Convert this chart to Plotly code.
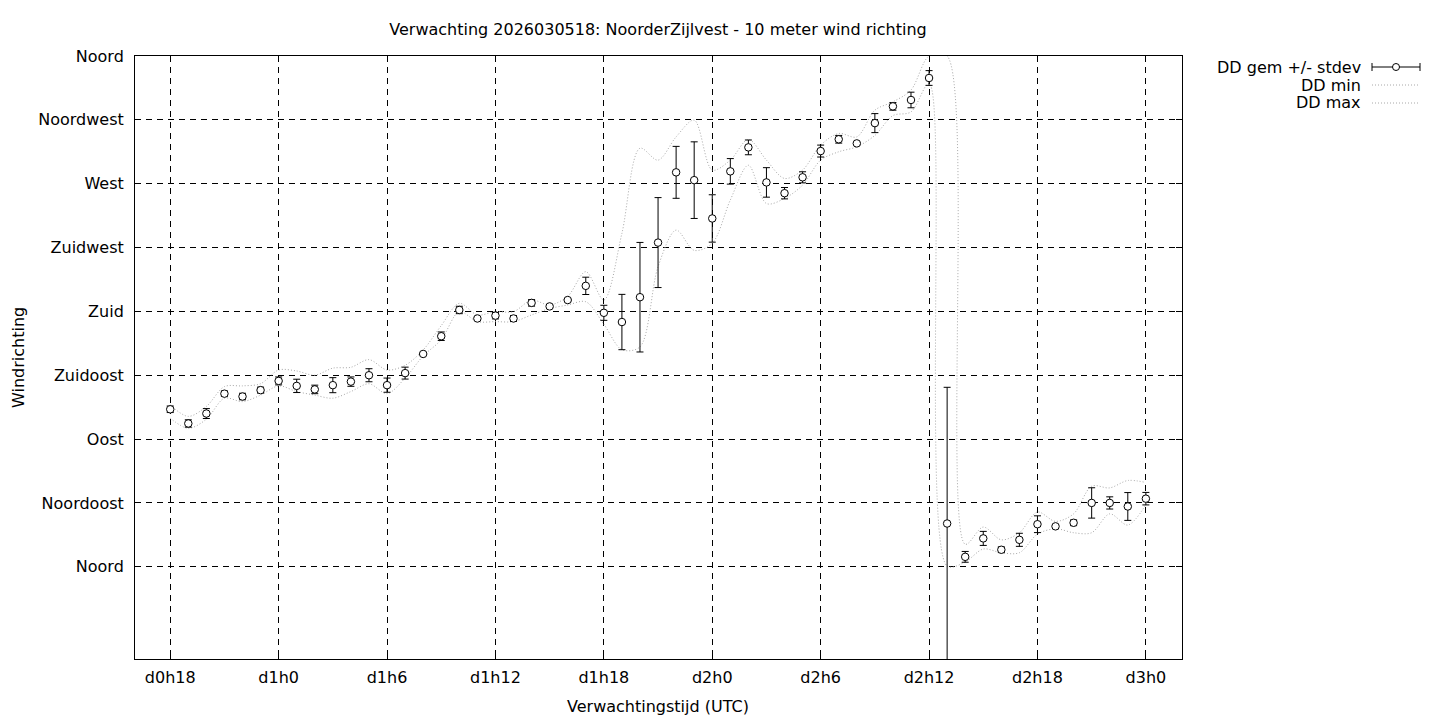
import plotly.graph_objects as go

# ---- data ----
hours = [18, 19, 20, 21, 22, 23, 24, 25, 26, 27, 28, 29, 30, 31, 32, 33, 34, 35, 36,
         37, 38, 39, 40, 41, 42, 43, 44, 45, 46, 47, 48, 49, 50, 51, 52, 53, 54, 55,
         56, 57, 58, 59, 60, 61, 62, 63, 64, 65, 66, 67, 68, 69, 70, 71, 72]

dd_mean = [111, 101, 108, 122, 120, 124.5, 131, 127.5, 125, 128, 130.5, 135, 128, 136.5,
           150, 162.5, 181, 175, 177, 175, 186, 183.5, 188, 198, 179, 172.5, 190, 228.5,
           278, 272.5, 245.5, 278.7, 295.6, 270.9, 263.3, 274.5, 293, 301.3, 298.4, 312.7,
           324.5, 329, 344.5, 30.5, 7, 20, 12, 19, 30, 28.5, 31, 45, 45, 42.5, 48]

dd_std = [2.3, 2.6, 3.5, 1.9, 2.3, 2.1, 2.8, 4.7, 3, 5.3, 3.3, 4.6, 5, 4.2,
          0.8, 3, 2.6, 0.8, 2.3, 2.1, 2.3, 0.8, 0.8, 6.1, 5.3, 19.5, 38.6, 31.7,
          18.3, 27, 16.7, 9, 5.2, 10.4, 4, 3.9, 4.2, 2.7, 0.8, 6.7,
          2.7, 5.5, 5.2, 96, 3.8, 4.95, 2, 4.6, 5.9, 0.8, 2, 10.7, 4.3, 9.8, 4.4]

dd_min = [104.7, 97.6, 104, 118.8, 116.4, 121, 127.5, 123.5, 121, 118.8, 123.5, 129, 122, 133,
          148.6, 160, 179.8, 172.8, 172.8, 172.8, 177.5, 182, 184.5, 186.8, 171, 153, 155, 211.5,
          237.3, 223, 228, 258.5, 283, 256, 259.6, 269, 286.6, 292.5, 296, 304,
          318, 320.6, 340.6, 0.5, 3.4, 12.5, 9.9, 9.9, 23, 26.8, 24, 24, 37.3, 29.4, 43.8]

dd_max = [114, 106, 113, 127, 127.5, 129, 138.7, 138, 135, 140, 140.6, 146, 138.7, 142,
          152.8, 170, 185.7, 177.5, 179.8, 179.8, 188, 184.5, 190.6, 208, 188, 235, 295, 286.6,
          303, 314.8, 279.6, 286.6, 301.2, 286.6, 273.7, 279.6, 297.2, 305.4, 303, 321.8,
          327.7, 336, 360, 360, 15.9, 28, 19, 24, 38.6, 32, 37.3, 56.8, 55.6, 60.8, 59.4]

x_tickvals = [18, 24, 30, 36, 42, 48, 54, 60, 66, 72]
x_ticktext = ["d0h18", "d1h0", "d1h6", "d1h12", "d1h18", "d2h0", "d2h6", "d2h12", "d2h18", "d3h0"]
y_tickvals = [0, 45, 90, 135, 180, 225, 270, 315, 360]
y_ticktext = ["Noord", "Noordoost", "Oost", "Zuidoost", "Zuid", "Zuidwest", "West", "Noordwest", "Noord"]

title_text = "Verwachting 2026030518: NoorderZijlvest - 10 meter wind richting"
legend_labels = ["DD gem +/- stdev", "DD min", "DD max"]

FONT = "DejaVu Sans"
FS = 16
GRAY = "#a8a8a8"

fig = go.Figure()

fig.add_trace(go.Scatter(
    x=hours, y=dd_min, mode="lines", name=legend_labels[1],
    line=dict(color=GRAY, width=1, dash="1px,2px", shape="spline", smoothing=0.9),
    showlegend=False))
fig.add_trace(go.Scatter(
    x=hours, y=dd_max, mode="lines", name=legend_labels[2],
    line=dict(color=GRAY, width=1, dash="1px,2px", shape="spline", smoothing=0.9),
    showlegend=False))
fig.add_trace(go.Scatter(
    x=hours, y=dd_mean, mode="markers", name=legend_labels[0],
    marker=dict(symbol="circle", size=7.5, color="white", line=dict(color="black", width=1)),
    error_y=dict(type="data", array=dd_std, symmetric=True, color="black", thickness=1, width=3.5),
    showlegend=False))

# plot area in pixels
L, R, T, B = 135, 1182, 56, 659
W, H = 1440, 720


def px(xp):
    return (xp - L) / (R - L)


def py(yp):
    return (B - yp) / (B - T)


fig.update_layout(
    width=W, height=H,
    margin=dict(l=L, r=W - R, t=T, b=H - B, autoexpand=False),
    paper_bgcolor="white", plot_bgcolor="white",
    font=dict(family=FONT, size=FS, color="black"),
    showlegend=False,
    title=dict(text=title_text, x=658 / W, y=1 - 29 / H, xanchor="center",
               yanchor="middle", xref="container", yref="container",
               font=dict(family=FONT, size=FS)),
)

axis_common = dict(
    showgrid=True, gridcolor="black", gridwidth=1, griddash="6px,5px",
    showline=True, linecolor="black", linewidth=1, mirror="ticks",
    ticks="inside", ticklen=6, tickcolor="black", zeroline=False,
    tickfont=dict(family=FONT, size=FS),
)
fig.update_xaxes(range=[16.05, 74.0], tickvals=x_tickvals, ticktext=x_ticktext,
                 ticklabelstandoff=4, **axis_common)
fig.update_yaxes(range=[-65, 360], tickvals=y_tickvals, ticktext=y_ticktext,
                 ticklabelstandoff=7, **axis_common)

ann = [
    dict(text="Verwachtingstijd (UTC)", x=px(658), y=py(706), xref="paper", yref="paper",
         showarrow=False, xanchor="center", yanchor="middle", font=dict(size=FS)),
    dict(text="Windrichting", x=px(19), y=py(358), xref="paper", yref="paper",
         showarrow=False, xanchor="center", yanchor="middle", textangle=-90, font=dict(size=FS)),
]
legend_y = [67, 85, 103]
for lab, ly in zip(legend_labels, legend_y):
    ann.append(dict(text=lab, x=px(1363), y=py(ly), xref="paper", yref="paper",
                    showarrow=False, xanchor="right", yanchor="middle", font=dict(size=FS)))
fig.update_layout(annotations=ann)

shapes = []
# errorbar legend sample
shapes.append(dict(type="line", xref="paper", yref="paper", x0=px(1372), x1=px(1420),
                   y0=py(67), y1=py(67), line=dict(color="black", width=1)))
for cx in (1372, 1420):
    shapes.append(dict(type="line", xref="paper", yref="paper", x0=px(cx), x1=px(cx),
                       y0=py(63), y1=py(71), line=dict(color="black", width=1)))
shapes.append(dict(type="circle", xref="paper", yref="paper", x0=px(1392.5), x1=px(1399.5),
                   y0=py(63.5), y1=py(70.5), fillcolor="white", line=dict(color="black", width=1)))
for ly in legend_y[1:]:
    shapes.append(dict(type="line", xref="paper", yref="paper", x0=px(1372), x1=px(1420),
                       y0=py(ly), y1=py(ly), line=dict(color=GRAY, width=1, dash="1px,2px")))
fig.update_layout(shapes=shapes)

fig.write_html("out.html", config={"displayModeBar": False},
               post_script="document.body.style.margin='0px';")
